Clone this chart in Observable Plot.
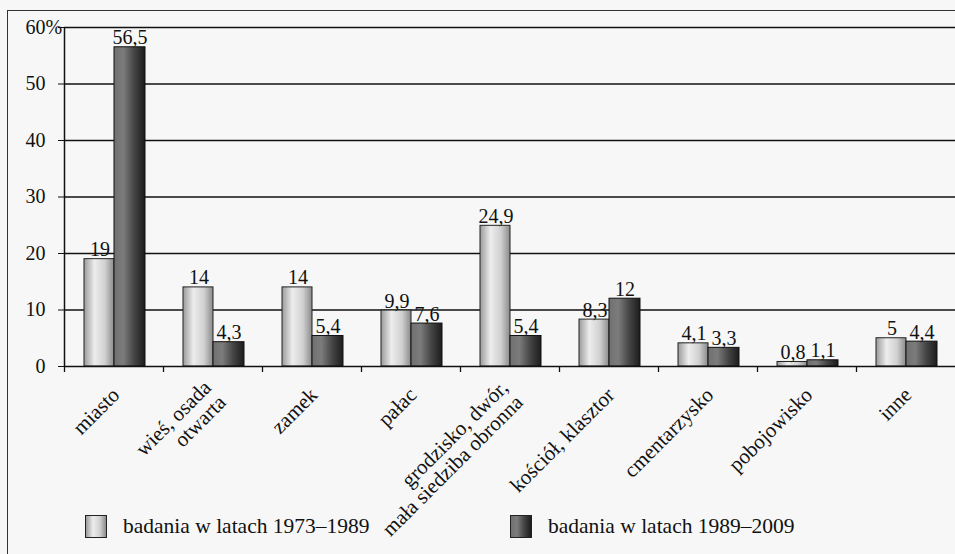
<!DOCTYPE html>
<html>
<head>
<meta charset="utf-8">
<script src="https://cdn.jsdelivr.net/npm/d3@7"></script>
<script src="https://cdn.jsdelivr.net/npm/@observablehq/plot@0.6"></script>
<style>
  html, body { margin: 0; padding: 0; background: #f7f7f7; }
  #wrap { position: relative; width: 955px; height: 554px; overflow: hidden; font-family: "Liberation Serif", serif; }
  #border { position: absolute; left: 7px; top: 10px; width: 960px; height: 560px; border-left: 1.5px solid #333; border-top: 1.5px solid #333; pointer-events: none; }
  #chart { position: absolute; left: 0; top: 0; }
  #legend { position: absolute; top: 515px; left: 0; width: 955px; height: 30px; font-size: 21.5px; color: #111; }
  .item { position: absolute; top: 0; display: flex; align-items: center; height: 23px; }
  .sw { width: 22px; height: 23px; border: 1px solid #222; margin-right: 16px; box-sizing: border-box; }
</style>
</head>
<body>
<div id="wrap">
  <div id="chart"></div>
  <div id="legend"></div>
  <div id="border"></div>
</div>
<script>
const categories = ["miasto", "wieś, osada\notwarta", "zamek", "pałac", "grodzisko, dwór,\nmała siedziba obronna", "kościół, klasztor", "cmentarzysko", "pobojowisko", "inne"];
const seriesNames = ["badania w latach 1973–1989", "badania w latach 1989–2009"];
const values1973 = [19, 14, 14, 9.9, 24.9, 8.3, 4.1, 0.8, 5];
const values1989 = [56.5, 4.3, 5.4, 7.6, 5.4, 12, 3.3, 1.1, 4.4];
const yTicks = [0, 10, 20, 30, 40, 50, 60];
const yTickLabels = ["0", "10", "20", "30", "40", "50", "60%"];

const W = 955, H = 554, ML = 64, MR = 0, MT = 27, MB = 188;
const bw = (W - ML - MR) / categories.length;
const fmt = v => String(v).replace(".", ",");

const d1 = categories.map((c, i) => ({category: c, value: values1973[i]}));
const d2 = categories.map((c, i) => ({category: c, value: values1989[i]}));
const topIdx = yTicks.length - 1;

const lightStops = [[0, "#9a9a9a"], [0.35, "#ededed"], [0.7, "#d0d0d0"], [1, "#8a8a8a"]];
const darkStops = [[0, "#707070"], [0.3, "#7c7c7c"], [0.65, "#454545"], [1, "#1c1c1c"]];

function defsMark() {
  const defs = d3.create("svg:defs");
  for (const [id, stops] of [["gLight", lightStops], ["gDark", darkStops]]) {
    const g = defs.append("linearGradient").attr("id", id).attr("x1", 0).attr("x2", 1).attr("y1", 0).attr("y2", 0);
    for (const [o, c] of stops) g.append("stop").attr("offset", o).attr("stop-color", c);
  }
  return defs.node();
}

const chart = Plot.plot({
  width: W, height: H,
  marginLeft: ML, marginRight: MR, marginTop: MT, marginBottom: MB,
  style: {fontFamily: "Liberation Serif, serif", fontSize: "19px", background: "transparent", color: "#111", overflow: "visible"},
  x: {domain: categories, padding: 0, axis: null, label: null},
  y: {domain: [0, 60], axis: null, label: null},
  marks: [
    defsMark,
    Plot.ruleY(yTicks.slice(1), {stroke: "#111", strokeWidth: 1.3}),
    Plot.barY(d1, {x: "category", y: "value", fill: "url(#gLight)", stroke: "#222", strokeWidth: 1, insetLeft: 20, insetRight: bw - 50}),
    Plot.barY(d2, {x: "category", y: "value", fill: "url(#gDark)", stroke: "#111", strokeWidth: 1, insetLeft: 50, insetRight: bw - 81}),
    Plot.text(d1, {x: "category", y: "value", text: d => fmt(d.value), dx: 35.5 - bw / 2, dy: -3, lineAnchor: "bottom", fontSize: 20, fill: "#111"}),
    Plot.text(d2, {x: "category", y: "value", text: d => fmt(d.value), dx: 65.5 - bw / 2, dy: -3, lineAnchor: "bottom", fontSize: 20, fill: "#111"}),
    Plot.ruleY([0], {stroke: "#111", strokeWidth: 1.5}),
    Plot.ruleX([categories[0]], {dx: -bw / 2, stroke: "#111", strokeWidth: 1.5}),
    Plot.ruleX(categories, {y1: 0, y2: 0, dx: -bw / 2, insetTop: 0, insetBottom: -6, stroke: "#111", strokeWidth: 1.3}),
    Plot.axisY(yTicks, {anchor: "left", label: null, tickSize: 6, tickPadding: 13, tickFormat: (d, i) => i === topIdx ? "" : yTickLabels[i], fontSize: 20, stroke: "#111"}),
    Plot.text([yTicks[topIdx]], {y: d => d, frameAnchor: "left", dx: -39, textAnchor: "start", text: () => yTickLabels[topIdx], fontSize: 20, fill: "#111"}),
    Plot.text(categories, {x: d => d, y: () => 0, text: d => d, rotate: -45, textAnchor: "end", lineAnchor: "middle", dx: 2, dy: 25, fontSize: 21, fill: "#111"})
  ]
});
document.getElementById("chart").appendChild(chart);

const legend = document.getElementById("legend");
const grad = stops => "linear-gradient(to right, " + stops.map(([o, c]) => c + " " + (o * 100) + "%").join(", ") + ")";
[[85, lightStops], [510, darkStops]].forEach(([left, stops], i) => {
  const item = document.createElement("div");
  item.className = "item";
  item.style.left = left + "px";
  const sw = document.createElement("div");
  sw.className = "sw";
  sw.style.background = grad(stops);
  const t = document.createElement("span");
  t.textContent = seriesNames[i];
  item.appendChild(sw);
  item.appendChild(t);
  legend.appendChild(item);
});
</script>
</body>
</html>
